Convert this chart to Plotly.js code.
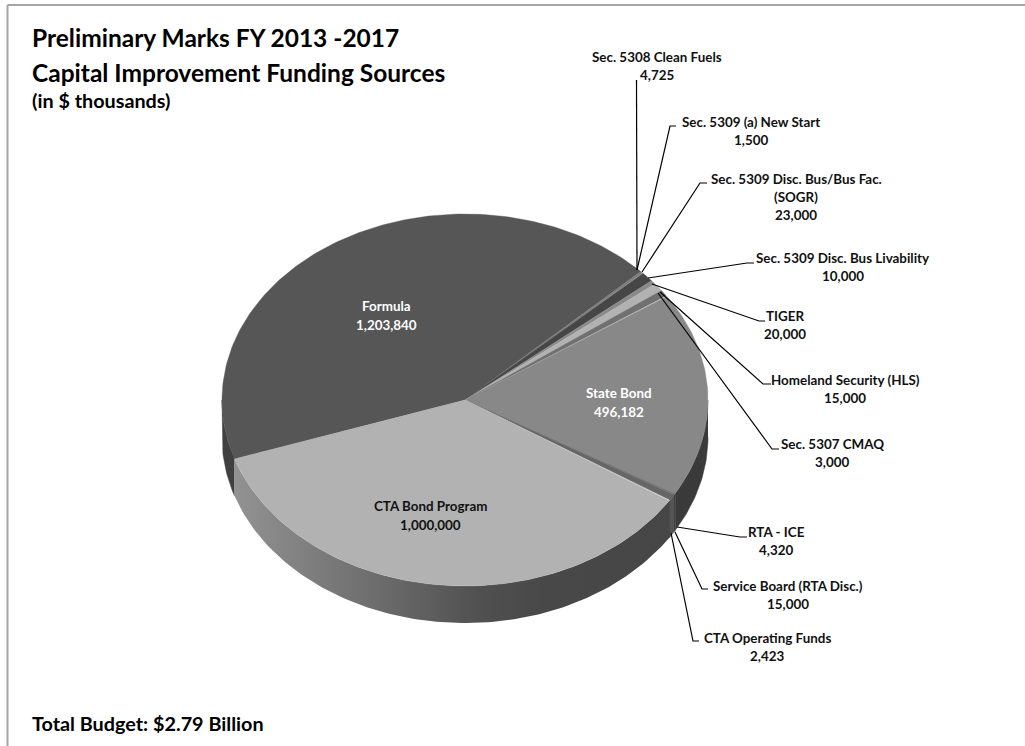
<!DOCTYPE html>
<html><head><meta charset="utf-8">
<script src="https://cdn.plot.ly/plotly-3.0.1.min.js"></script>
<style>html,body{margin:0;padding:0;background:#fff}#c{width:1025px;height:746px}</style>
</head><body><div id="c"></div>
<script>
// Data, in drawing order clockwise from the start of the "Formula" slice
const sliceNames = ["Formula","Sec. 5308 Clean Fuels","Sec. 5309 (a) New Start","Sec. 5309 Disc. Bus/Bus Fac.\n(SOGR)","Sec. 5309 Disc. Bus Livability","TIGER","Homeland Security (HLS)","Sec. 5307 CMAQ","State Bond","RTA - ICE","Service Board (RTA Disc.)","CTA Operating Funds","CTA Bond Program"];
const sliceValues = [1203840,4725,1500,23000,10000,20000,15000,3000,496182,4320,15000,2423,1000000];
const sliceColors = ["#565656","#7c7c7c","#5a5a5a","#464646","#8a8a8a","#b2b2b2","#707070","#a8a8a8","#888888","#7a7a7a","#666666","#d0d0d0","#b2b2b2"];
const wallColors  = ["#404040","#404040","#404040","#404040","#404040","#404040","#404040","#404040","#3a3a3a","#383838","#555555","#333333","#484848"];
const wallGradient = [[0,"#929292"],[0.25,"#757575"],[0.55,"#505050"],[0.7,"#484848"],[1,"#464646"]];

// Layout of the picture (pixel-like axis units)
const pieCx = 465, pieCy = 400, pieRx = 243, pieRy = 186, pieDepth = 37, startAngle = 251.5;
const labelLeft = {"Formula":[386,306,"#fff"],"State Bond":[619,393,"#fff"],"CTA Bond Program":[430,506,"#111"]};
const calloutPos = [[657,57],[751,122],[796,179],[843,258],[785,316],[845,380],[832,444],[776,532],[788,586],[767,638]];
const calloutNames = sliceNames.filter(n=>!labelLeft[n]);
const leaders = [
 [[637,270],[636.5,80]],
 [[637,270],[670,126],[676,126]],
 [[642,272],[700,183],[707,183]],
 [[648,278],[747,263],[754,263]],
 [[652,284],[759,321],[765,321]],
 [[660,292],[763,384],[771,384]],
 [[658,293],[772,449],[779,449]],
 [[677,527],[740,537],[747,537]],
 [[675,532],[702,589],[708,589]],
 [[671,533],[693,641],[699,641]]
];
const footer = "Total Budget: $2.79 Billion";
const titleLines = [["Preliminary Marks FY 2013 -2017",37,24.5],["Capital Improvement Funding Sources",72,24.5],["(in $ thousands)",100,19.8]];

const FONT = "Lato, 'Open Sans', sans-serif";
const total = sliceValues.reduce((a,b)=>a+b,0);
const rad = d=>d*Math.PI/180;
function arc(a0,a1,dy){
  const xs=[],ys=[],n=Math.max(2,Math.ceil(Math.abs(a1-a0)/1));
  for(let i=0;i<=n;i++){const a=rad(a0+(a1-a0)*i/n);xs.push(pieCx+pieRx*Math.sin(a));ys.push(pieCy-pieRy*Math.cos(a)+dy);}
  return [xs,ys];
}
const angles=[];let cur=startAngle;
sliceValues.forEach(v=>{const s=v/total*360;angles.push([cur,cur+s]);cur+=s;});

const traces=[];
// Visible side wall: clockwise-from-top angles 90..270
sliceNames.forEach((name,i)=>{
  let [a0,a1]=angles[i];
  const ranges=[[a0,a1],[a0-360,a1-360]];
  ranges.forEach(([p,q])=>{
    const lo=Math.max(p,90),hi=Math.min(q,270);
    if(hi<=lo) return;
    const [tx,ty]=arc(lo,hi,0),[bx,by]=arc(hi,lo,pieDepth);
    const t={type:"scatter",mode:"lines",x:tx.concat(bx),y:ty.concat(by),fill:"toself",name:name+" side",
      line:{width:0.5,color:wallColors[i]},fillcolor:wallColors[i],hoverinfo:"skip",showlegend:false};
    if(name==="CTA Bond Program"){
      t.fillgradient={type:"horizontal",start:235,stop:680,colorscale:wallGradient};
      t.line={width:0};
    }
    traces.push(t);
  });
});
// Top face
sliceNames.forEach((name,i)=>{
  const [xs,ys]=arc(angles[i][0],angles[i][1],0);
  traces.push({type:"scatter",mode:"lines",x:[pieCx].concat(xs,[pieCx]),y:[pieCy].concat(ys,[pieCy]),fill:"toself",
    name:name,line:{width:0.4,color:sliceColors[i]},fillcolor:sliceColors[i],hoverinfo:"skip",showlegend:false});
});
// Leader lines
leaders.forEach((pts,i)=>{
  traces.push({type:"scatter",mode:"lines",x:pts.map(p=>p[0]),y:pts.map(p=>p[1]),line:{color:"#000",width:1.2},
    name:calloutNames[i]+" leader",hoverinfo:"skip",showlegend:false});
});

const ann=[];
function txt(s,x,y,size,color,anchor){
  ann.push({text:"<b>"+s+"</b>",x:x,y:y,xref:"x",yref:"y",showarrow:false,xanchor:anchor||"center",yanchor:"middle",
    font:{family:FONT,size:size,color:color||"#111"},borderpad:0,borderwidth:0});
}
const fmt=v=>v.toLocaleString("en-US");
const LBL=13.4;
calloutNames.forEach((n,i)=>{
  const lines=n.split("\n"),[x,y]=calloutPos[i];
  lines.forEach((l,k)=>txt(l,x,y+k*18,LBL));
  txt(fmt(sliceValues[sliceNames.indexOf(n)]),x,y+lines.length*18,LBL);
});
Object.keys(labelLeft).forEach(n=>{
  const [x,y,c]=labelLeft[n];
  txt(n,x,y,LBL,c);
  txt(fmt(sliceValues[sliceNames.indexOf(n)]),x,y+18.5,LBL,c);
});
titleLines.forEach(([s,y,size])=>txt(s,32,y,size,"#000","left"));
txt(footer,32,723,19.8,"#000","left");

const layout={
  width:1025,height:746,margin:{l:0,r:0,t:0,b:0,pad:0},paper_bgcolor:"#fff",plot_bgcolor:"#fff",showlegend:false,
  hovermode:false,
  xaxis:{range:[0,1025],visible:false,fixedrange:true},
  yaxis:{range:[746,0],visible:false,fixedrange:true},
  annotations:ann,
  shapes:[
    {type:"line",xref:"x",yref:"y",x0:7.5,x1:1025,y0:5,y1:5,line:{color:"#a6a6a6",width:2},layer:"below"},
    {type:"line",xref:"x",yref:"y",x0:7.5,x1:7.5,y0:5,y1:746,line:{color:"#a6a6a6",width:2},layer:"below"}
  ]
};
Plotly.newPlot("c",traces,layout,{displayModeBar:false,staticPlot:true});
</script></body></html>
